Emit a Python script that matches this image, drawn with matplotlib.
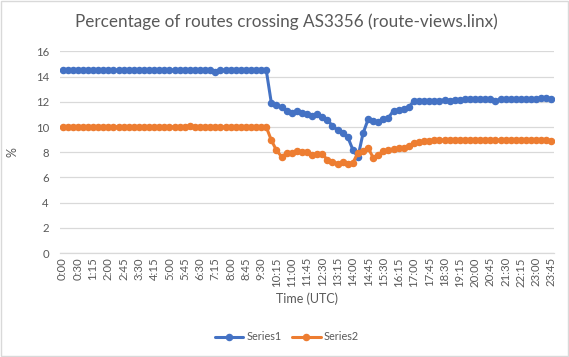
import numpy as np
import matplotlib.pyplot as plt
from matplotlib.patches import Rectangle

plt.rcParams["font.family"] = ["Lato", "DejaVu Sans"]

# ---- data ----
# 97 categories: the first slot is an extra "0:00", then every 15 minutes
times = ["0:00"] + [f"{m // 60}:{m % 60:02d}" for m in range(0, 1440, 15)]

series1 = ([14.5] * 30 + [14.35] + [14.5] * 10 +
           [11.9, 11.75, 11.6, 11.25, 11.15, 11.25, 11.15, 11.05, 10.9, 11.0,
            10.8, 10.55, 10.1, 9.75, 9.55, 9.2, 8.2, 7.6, 9.5, 10.6,
            10.45, 10.4, 10.6, 10.75, 11.3, 11.35, 11.4, 11.6, 12.05,
            12.05, 12.05, 12.1, 12.1, 12.1, 12.15, 12.1, 12.15, 12.15, 12.2,
            12.2, 12.2, 12.2, 12.2, 12.2, 12.1, 12.2, 12.2, 12.2, 12.2,
            12.2, 12.2, 12.25, 12.25, 12.3, 12.3, 12.2])

series2 = ([10.0] * 25 + [10.1] + [10.0] * 15 +
           [8.95, 8.15, 7.65, 7.9, 7.95, 8.1, 8.0, 8.05, 7.75, 7.85,
            7.85, 7.4, 7.25, 7.1, 7.2, 7.1, 7.15, 7.95, 8.1, 8.35,
            7.55, 7.8, 8.1, 8.15, 8.25, 8.3, 8.35, 8.5, 8.75,
            8.8, 8.85, 8.9, 8.95, 8.95, 8.95, 8.95, 8.95, 8.95, 8.95,
            8.95, 8.95, 8.95, 8.95, 8.95, 8.95, 8.95, 8.95, 8.95, 9.0,
            9.0, 9.0, 9.0, 9.0, 9.0, 9.0, 8.85])

yticks = [0, 2, 4, 6, 8, 10, 12, 14, 16]

# ---- figure ----
fig = plt.figure(figsize=(5.69, 3.57), dpi=100)
ax = fig.add_axes([60 / 569, 1 - 253 / 357, 494 / 569, 201.6 / 357])

x = np.arange(len(times))
ax.plot(x, series1, color="#4472C4", lw=2.2, marker="o", ms=4.4,
        label="Series1", solid_capstyle="round")
ax.plot(x, series2, color="#ED7D31", lw=2.2, marker="o", ms=4.4,
        label="Series2", solid_capstyle="round")

ax.set_xlim(-0.5, len(times) - 0.5)
ax.set_ylim(0, 16)
ax.set_yticks(yticks)
ax.set_xticks(x[::3])
ax.set_xticklabels(times[::3], rotation=90, fontsize=8.2, color="#595959")
ax.tick_params(axis="y", labelsize=8.2, labelcolor="#595959", length=0, pad=8)
ax.tick_params(axis="x", length=0, pad=3)
ax.grid(axis="y", color="#D9D9D9", lw=0.9)
ax.set_axisbelow(True)
for s in ["top", "right", "left"]:
    ax.spines[s].set_visible(False)
ax.spines["bottom"].set_color("#D9D9D9")
ax.spines["bottom"].set_linewidth(0.9)

ax.set_xlabel("Time (UTC)", fontsize=9, color="#595959", labelpad=4)
ax.set_ylabel("%", fontsize=9, color="#595959", labelpad=12)

fig.text(0.503, 1 - 22 / 357, "Percentage of routes crossing AS3356 (route-views.linx)",
         ha="center", va="center", fontsize=12.3, color="#595959")

fig.legend(loc="center", bbox_to_anchor=(287 / 569, 1 - 337 / 357), ncol=2,
           frameon=False, fontsize=7.8, labelcolor="#595959",
           handlelength=2.6, columnspacing=1.0, handletextpad=0.3)

fig.add_artist(Rectangle((0.001, 0.002), 0.997, 0.995, transform=fig.transFigure,
                         fill=False, edgecolor="#D9D9D9", lw=1))

fig.savefig("out.png", dpi=100)
